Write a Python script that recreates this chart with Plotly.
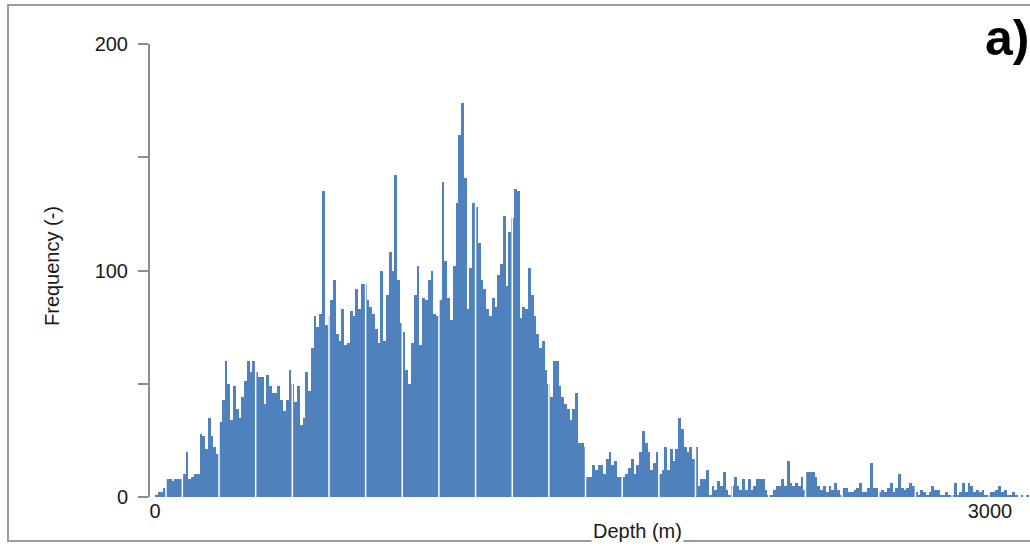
import numpy as np
import plotly.graph_objects as go

# Histogram of depths, 10 m bins starting at 0 m
bin_width = 10

counts_0000_0490 = [
    1, 2, 2, 4, 8, 8, 7, 8, 8, 8,
    10, 20, 8, 9, 10, 10, 28, 27, 21, 35,
    27, 22, 19, 33, 43, 60, 50, 34, 49, 39,
    35, 44, 51, 60, 55, 60, 55, 53, 53, 41,
    54, 49, 46, 46, 49, 43, 38, 43, 56, 50,
]
counts_0500_0990 = [
    42, 49, 32, 35, 55, 47, 66, 80, 75, 81,
    135, 76, 80, 87, 96, 72, 69, 83, 67, 68,
    82, 80, 92, 83, 94, 94, 87, 84, 81, 74,
    68, 100, 69, 89, 108, 100, 142, 96, 77, 73,
    56, 50, 68, 89, 102, 67, 88, 87, 96, 100,
]
counts_1000_1490 = [
    81, 80, 87, 139, 104, 88, 78, 102, 130, 160,
    174, 141, 83, 101, 130, 128, 112, 96, 92, 83,
    80, 88, 84, 98, 103, 124, 93, 117, 123, 136,
    135, 79, 84, 83, 101, 89, 80, 72, 66, 69,
    56, 50, 44, 60, 60, 49, 44, 41, 39, 34,
]
counts_1500_1990 = [
    39, 46, 24, 24, 22, 9, 9, 14, 12, 14,
    14, 10, 17, 20, 14, 16, 9, 9, 9, 10,
    13, 17, 10, 14, 20, 29, 24, 20, 12, 15,
    20, 10, 12, 22, 12, 21, 16, 21, 35, 30,
    22, 20, 22, 17, 22, 5, 8, 8, 12, 1,
]
counts_2000_2490 = [
    5, 3, 7, 5, 11, 3, 1, 5, 9, 5,
    3, 8, 3, 8, 3, 5, 8, 8, 8, 3,
    1, 1, 3, 5, 5, 8, 5, 16, 6, 5,
    6, 5, 9, 3, 11, 11, 11, 9, 5, 3,
    5, 2, 5, 3, 6, 3, 1, 4, 4, 2,
]
counts_2500_3140 = [
    2, 3, 4, 6, 2, 2, 4, 15, 4, 4,
    2, 3, 2, 4, 6, 2, 4, 10, 4, 3,
    4, 6, 5, 2, 1, 3, 2, 1, 2, 5,
    3, 3, 1, 1, 2, 1, 1, 6, 1, 2,
    6, 2, 6, 5, 2, 3, 2, 3, 1, 1,
    2, 2, 3, 5, 2, 3, 1, 1, 2, 1,
    0, 1, 0, 1, 0,
]

x_tick_values = [0, 3000]
x_tick_labels = ["0", "3000"]
y_tick_values = [0, 50, 100, 150, 200]
y_tick_labels = ["0", "", "100", "", "200"]

counts = np.array(
    counts_0000_0490 + counts_0500_0990 + counts_1000_1490
    + counts_1500_1990 + counts_2000_2490 + counts_2500_3140
)
bin_left = np.arange(len(counts)) * bin_width
bin_centre = bin_left + bin_width / 2

BAR = "rgb(79,129,189)"
AXIS = "#8c8c8c"
FONT = "Liberation Sans, Arial, sans-serif"

fig = go.Figure(
    go.Bar(
        x=bin_centre,
        y=counts,
        width=bin_width,
        marker=dict(color=BAR, line=dict(width=0)),
        hovertemplate="%{x} m: %{y}<extra></extra>",
    )
)

# thin white separators running through the bars
shapes = []
sep_positions = [39.5]
sep = 98.3
while sep < 3150:
    sep_positions.append(sep)
    sep += 131.7
for sx in sep_positions:
    shapes.append(dict(type="line", xref="x", yref="y", x0=sx, x1=sx, y0=0, y1=200,
                       line=dict(color="white", width=1.5), layer="above"))

# outer frame
shapes.append(dict(type="rect", xref="paper", yref="paper",
                   x0=-142 / 880, x1=1.02, y0=-44 / 453, y1=1 + 39 / 453,
                   line=dict(color="#9a9a9a", width=2), fillcolor="rgba(0,0,0,0)",
                   layer="below"))

fig.update_layout(
    width=1030,
    height=546,
    margin=dict(l=150, r=0, t=44, b=49),
    paper_bgcolor="white",
    plot_bgcolor="white",
    bargap=0,
    showlegend=False,
    font=dict(family=FONT, size=20, color="#1a1a1a"),
    shapes=shapes,
    xaxis=dict(
        range=[-18, 3144],
        showline=False,
        showgrid=False,
        zeroline=False,
        ticks="",
        tickvals=x_tick_values,
        ticktext=x_tick_labels,
        tickfont=dict(size=20),
    ),
    yaxis=dict(
        range=[0, 200],
        showline=True,
        linecolor=AXIS,
        linewidth=2,
        showgrid=False,
        zeroline=False,
        ticks="outside",
        ticklen=10,
        tickwidth=2,
        tickcolor=AXIS,
        tickvals=y_tick_values,
        ticktext=y_tick_labels,
        tickfont=dict(size=20),
        ticklabelstandoff=6,
    ),
    annotations=[
        dict(text="Depth (m)", xref="paper", yref="paper", x=(637 - 150) / 880,
             y=-34 / 453, xanchor="center", yanchor="middle", showarrow=False,
             font=dict(size=20), bgcolor="white"),
        dict(text="Frequency (-)", xref="paper", yref="paper", x=-98 / 880,
             y=231 / 453, xanchor="center", yanchor="middle", showarrow=False,
             textangle=-90, font=dict(size=20)),
        dict(text="<b>a)</b>", xref="paper", yref="paper", x=(983 - 150) / 880,
             y=1 + 6 / 453, xanchor="left", yanchor="middle", showarrow=False,
             font=dict(size=50, color="black")),
    ],
)

fig.write_html("out.html")
